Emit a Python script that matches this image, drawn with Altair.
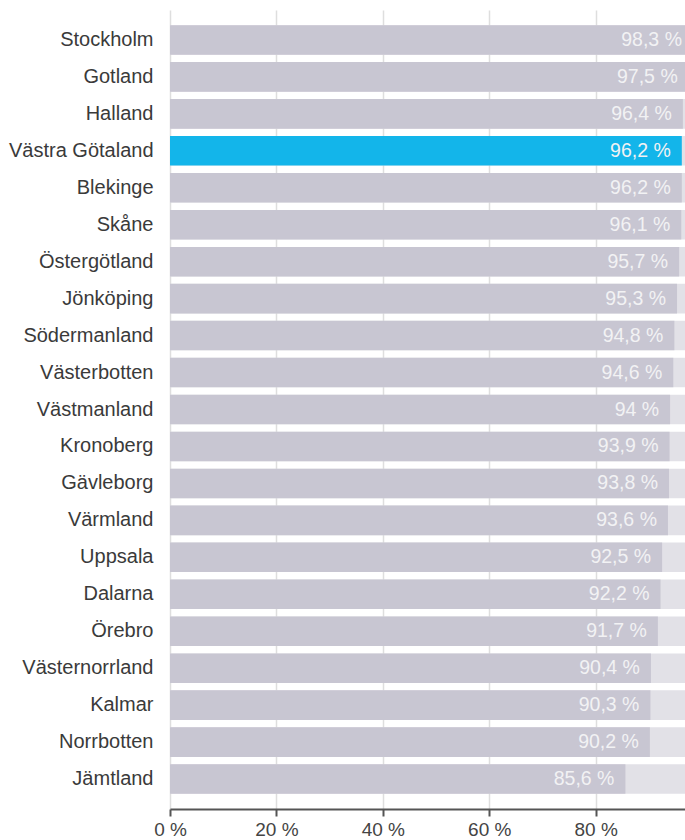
import altair as alt
import pandas as pd

regions = [
    "Stockholm", "Gotland", "Halland", "Västra Götaland", "Blekinge", "Skåne",
    "Östergötland", "Jönköping", "Södermanland", "Västerbotten", "Västmanland",
    "Kronoberg", "Gävleborg", "Värmland", "Uppsala", "Dalarna", "Örebro",
    "Västernorrland", "Kalmar", "Norrbotten", "Jämtland",
]
values = [98.3, 97.5, 96.4, 96.2, 96.2, 96.1, 95.7, 95.3, 94.8, 94.6, 94.0,
          93.9, 93.8, 93.6, 92.5, 92.2, 91.7, 90.4, 90.3, 90.2, 85.6]
full_value = 100
highlight = "Västra Götaland"
x_ticks = [0, 20, 40, 60, 80]

labels = [f"{v:g}".replace(".", ",") + " %" for v in values]
df = pd.DataFrame({"region": regions, "value": values,
                   "full": [full_value] * len(values), "label": labels})

FONT = "Liberation Sans"
xscale = alt.Scale(domain=[0, 96.8], nice=False)
xaxis = alt.Axis(
    values=x_ticks, labelExpr="datum.value + ' %'", title=None,
    grid=True, gridColor="#dedede", gridWidth=1.5,
    domainColor="#555555", domainWidth=2, tickColor="#555555", tickWidth=2,
    tickSize=7, labelFontSize=19, labelColor="#444444", labelPadding=4,
    labelFlush=False, labelFont=FONT,
)
yenc = alt.Y(
    "region:N", sort=regions, title=None,
    scale=alt.Scale(paddingInner=0.2, paddingOuter=0.41),
    axis=alt.Axis(ticks=False, domain=False, grid=False, labelFontSize=20,
                  labelPadding=17, labelColor="#3a3a3a", labelFont=FONT,
                  minExtent=165, maxExtent=165),
)

base = alt.Chart(df)
bg = base.mark_bar(color="#e2e1e7", clip=True).encode(
    x=alt.X("full:Q", scale=xscale, axis=xaxis, title=None), y=yenc)
bars = base.mark_bar(clip=True).encode(
    x=alt.X("value:Q", scale=xscale, title=None),
    y=yenc,
    color=alt.condition(alt.datum.region == highlight,
                        alt.value("#13b5ea"), alt.value("#c8c6d2")),
)
text = base.mark_text(align="right", baseline="middle", dx=-11, fontSize=19.5,
                      color="#f2f2f4", font=FONT).encode(
    x=alt.X("value:Q", scale=xscale, title=None), y=yenc, text="label:N")

chart = alt.layer(bg, bars, text).properties(
    width=515, height=799,
    padding={"left": 5, "top": 10, "right": 0, "bottom": 0},
).configure_view(stroke=None)

chart.save("out.html", embed_options={"renderer": "svg", "actions": False})
